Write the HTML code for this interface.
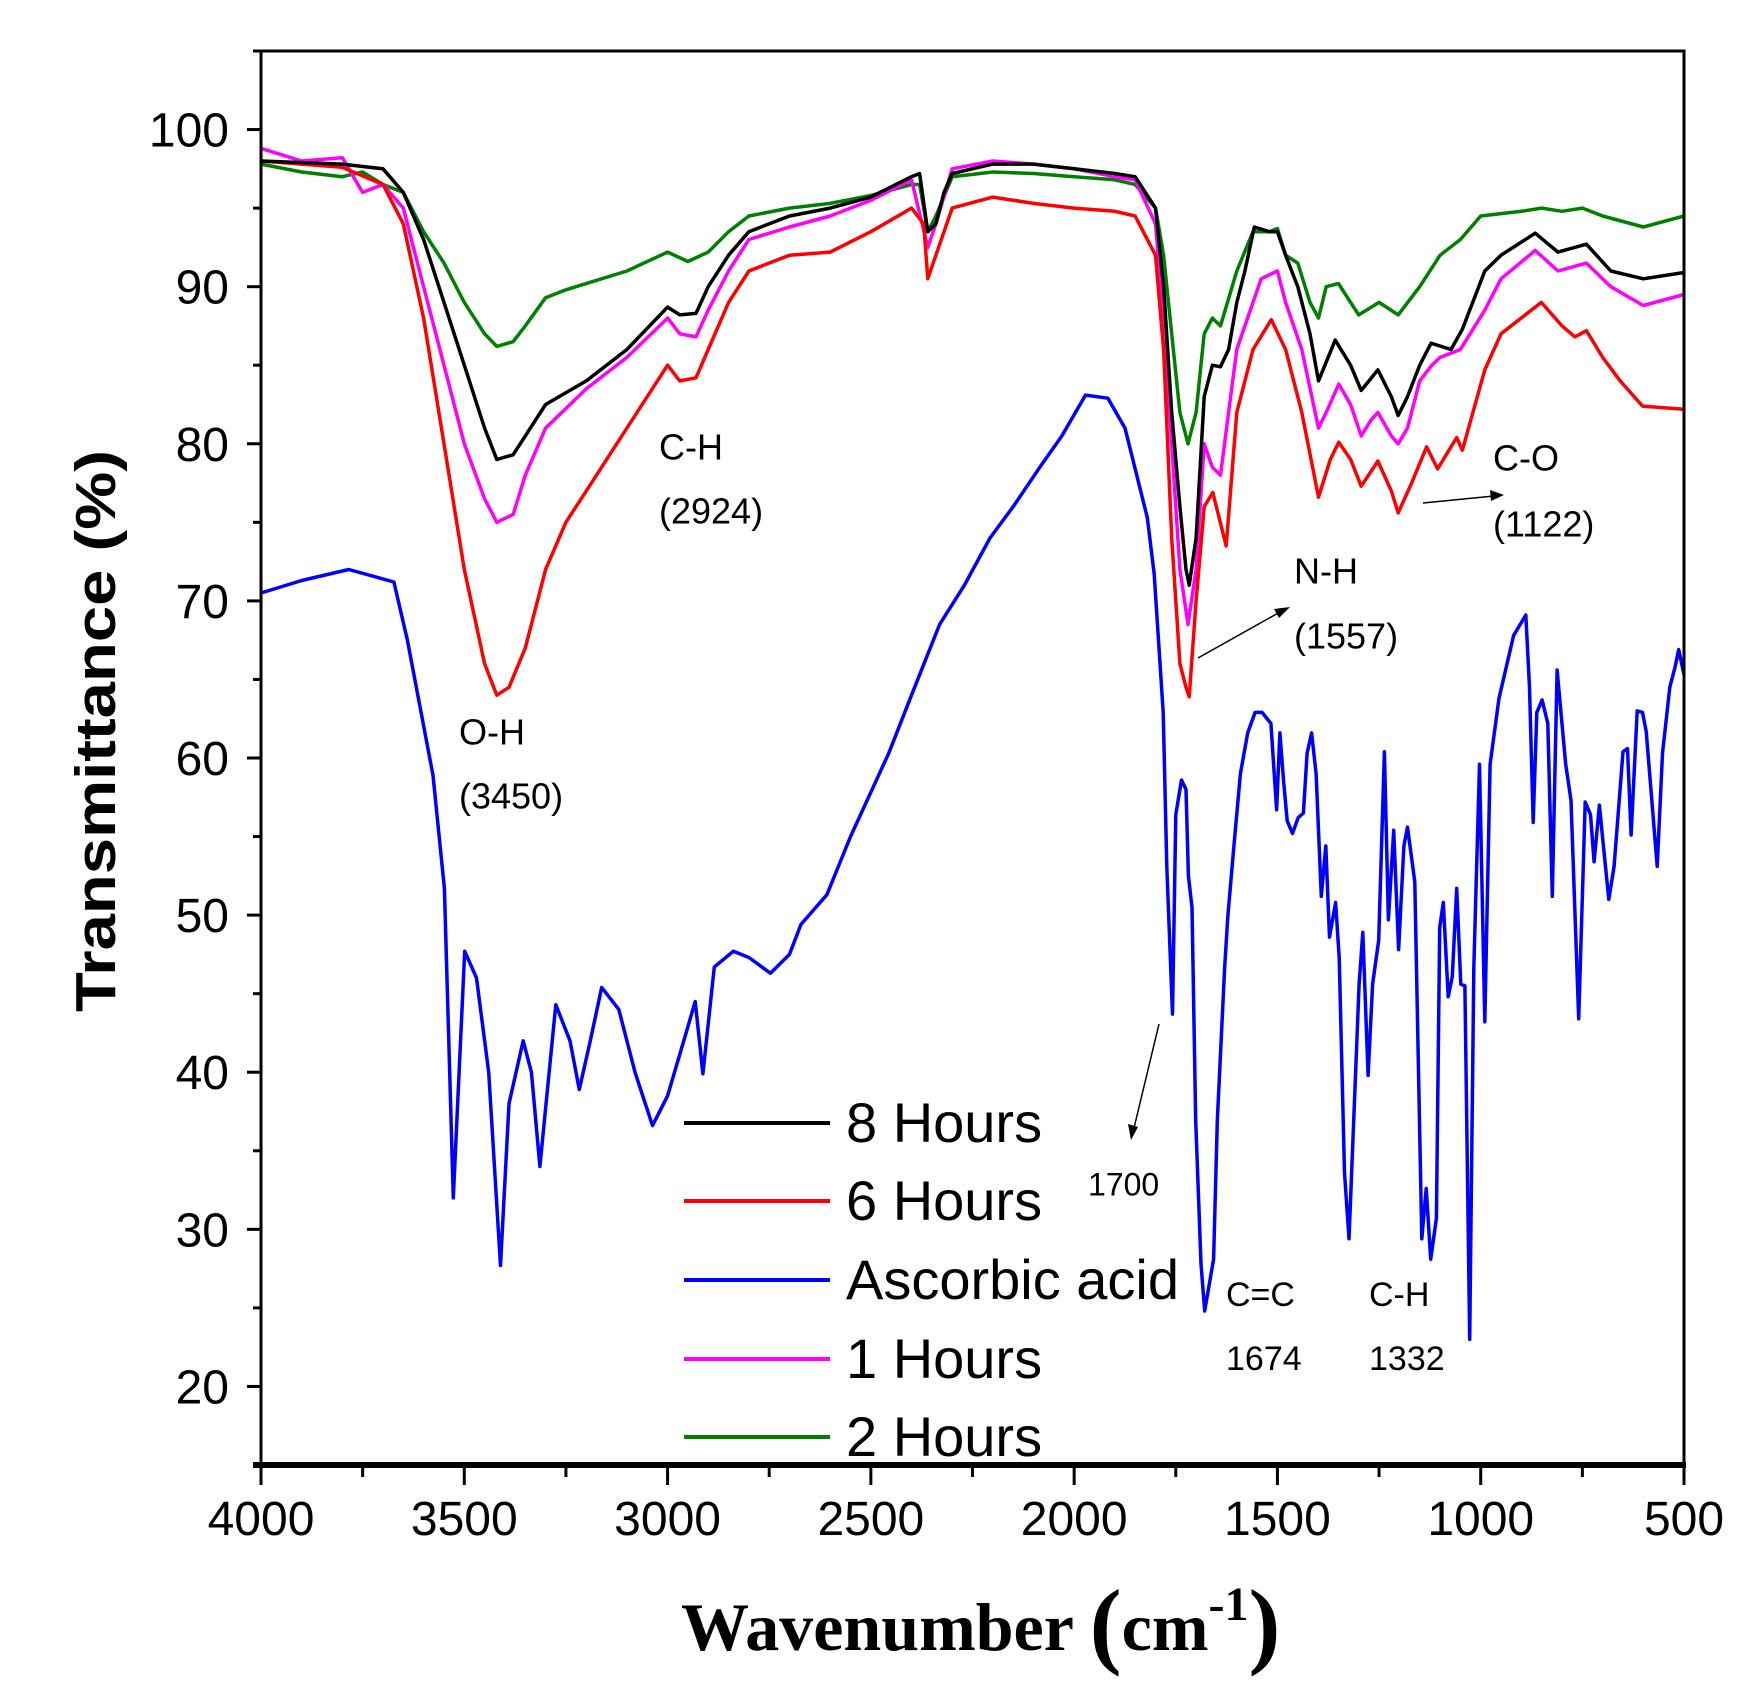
<!DOCTYPE html>
<html><head><meta charset="utf-8"><style>
html,body{margin:0;padding:0;background:#fff;}
svg{display:block;font-family:"Liberation Sans",sans-serif;}
</style></head><body>
<svg id="chart" width="1760" height="1696" viewBox="0 0 1760 1696" xmlns="http://www.w3.org/2000/svg">
<rect x="0" y="0" width="1760" height="1696" fill="#fff"/>
<g id="series"></g>
<g id="axes"></g>
<g id="annot" font-size="36" fill="#000">
<text x="659" y="450" dominant-baseline="middle">C-H</text>
<text x="659" y="514" dominant-baseline="middle">(2924)</text>
<text x="459" y="735" dominant-baseline="middle">O-H</text>
<text x="459" y="799" dominant-baseline="middle">(3450)</text>
<text x="1294" y="574" dominant-baseline="middle">N-H</text>
<text x="1294" y="639" dominant-baseline="middle">(1557)</text>
<text x="1493" y="461" dominant-baseline="middle">C-O</text>
<text x="1493" y="527" dominant-baseline="middle">(1122)</text>
<text x="1088" y="1187" dominant-baseline="middle" font-size="32">1700</text>
<text x="1226" y="1297" dominant-baseline="middle" font-size="34">C=C</text>
<text x="1226" y="1361" dominant-baseline="middle" font-size="34">1674</text>
<text x="1369" y="1297" dominant-baseline="middle" font-size="34">C-H</text>
<text x="1369" y="1361" dominant-baseline="middle" font-size="34">1332</text>
<g stroke="#000" stroke-width="1.5">
<line x1="1198" y1="658" x2="1280" y2="612"/>
<line x1="1423" y1="503" x2="1494" y2="496"/>
<line x1="1159" y1="1024" x2="1134" y2="1128"/>
</g>
<polygon points="1290,607 1274,609 1279,618" fill="#000"/>
<polygon points="1504,495 1490,490 1491,501" fill="#000"/>
<polygon points="1131,1140 1128,1124 1138,1127" fill="#000"/>
</g>
<g id="legend"></g>
</svg>
<script>
// ---- data ----
const wn8h = [4000,3800,3700,3650,3600,3550,3500,3450,3420,3380,3350,3300,3200,3100,3000,2970,2930,2900,2850,2800,2700,2600,2500,2400,2380,2360,2340,2320,2300,2200,2100,2000,1900,1850,1800,1780,1760,1740,1725,1717,1700,1680,1660,1640,1620,1600,1580,1557,1520,1500,1480,1450,1420,1399,1358,1320,1294,1253,1220,1203,1180,1150,1122,1073,1045,990,950,866,810,740,680,600,500];
const t8h = [98,97.8,97.5,96,93,89,85,81,79,79.3,80.5,82.5,84,86,88.7,88.2,88.3,90,92,93.5,94.5,95,95.7,97,97.2,93.5,94,96,97.2,97.8,97.8,97.5,97.2,97,95,90,82,76,72,71,74,83,85,84.9,86,89,91,93.8,93.5,93.5,92,90,87,84,86.6,85,83.4,84.7,83,81.8,83,85,86.4,86,87.3,91,92,93.4,92.2,92.7,91,90.5,90.9];

const wn6h = [4000,3800,3700,3650,3600,3550,3500,3450,3420,3390,3350,3300,3250,3200,3100,3000,2970,2930,2900,2850,2800,2700,2600,2500,2400,2370,2360,2340,2300,2200,2100,2000,1900,1850,1800,1780,1760,1740,1725,1717,1700,1680,1659,1626,1600,1560,1515,1480,1440,1399,1370,1349,1320,1294,1253,1220,1203,1170,1133,1106,1059,1045,990,950,851,800,768,740,700,657,602,500];
const t6h = [98,97.6,96.5,94,88,80,72,66,64,64.5,67,72,75,77,81,85,84,84.2,86,89,91,92,92.2,93.5,95,94,90.5,92,95,95.7,95.3,95,94.8,94.5,92,86,74,66,64.5,63.9,70,76,76.9,73.5,82,86,87.9,86,82,76.6,79,80.1,79,77.3,78.9,77,75.6,77.5,79.8,78.4,80.4,79.6,84.7,87,89,87.5,86.8,87.2,85.5,84,82.4,82.2];

const wn1h = [4000,3900,3800,3750,3700,3650,3600,3550,3500,3450,3420,3380,3350,3300,3200,3100,3000,2970,2930,2900,2850,2800,2700,2600,2500,2400,2360,2340,2300,2200,2100,2000,1900,1850,1800,1780,1760,1740,1720,1700,1680,1660,1640,1620,1600,1560,1540,1500,1480,1440,1399,1380,1349,1320,1294,1270,1253,1220,1203,1180,1150,1120,1100,1050,990,950,866,810,740,680,600,500];
const t1h = [98.8,98,98.2,96,96.5,95,90,85,80,76.5,75,75.5,78,81,83.5,85.5,88,87,86.8,88.5,91,93,93.8,94.5,95.5,96.8,92.5,94,97.5,98,97.8,97.5,97,96.8,94,88,80,72,68.5,72,80,78.5,78,82,86,89,90.5,91,89,86,81,82,83.8,82.5,80.5,81.5,82,80.5,80,81,84,85,85.5,86,88.5,90.5,92.3,91,91.5,90,88.8,89.5];

const wn2h = [4000,3900,3800,3750,3700,3650,3600,3550,3500,3450,3420,3380,3350,3300,3250,3100,3000,2950,2900,2850,2800,2700,2600,2500,2400,2380,2360,2340,2300,2200,2100,2000,1900,1850,1800,1780,1760,1740,1720,1700,1680,1660,1640,1600,1560,1520,1500,1480,1450,1420,1399,1380,1350,1300,1250,1203,1150,1100,1050,1000,900,850,800,750,700,600,500];
const t2h = [97.8,97.3,97,97.3,96.5,96,93.5,91.5,89,87,86.2,86.5,87.5,89.3,89.8,91,92.2,91.6,92.2,93.5,94.5,95,95.3,95.8,96.5,96.5,93.5,94.5,97,97.3,97.2,97,96.8,96.5,95,92,87,82,80,82,87,88,87.5,91,93.5,93.5,93.7,92,91.5,89,88,90,90.2,88.2,89,88.2,90,92,93,94.5,94.8,95,94.8,95,94.5,93.8,94.5];

const wnAA = [4000,3900,3784,3673,3640,3577,3549,3527,3499,3470,3440,3411,3390,3355,3335,3314,3295,3275,3240,3217,3190,3162,3120,3080,3037,3000,2960,2932,2913,2885,2838,2800,2747,2700,2672,2608,2550,2456,2400,2331,2270,2207,2150,2082,2030,1972,1917,1875,1820,1803,1781,1772,1758,1750,1736,1725,1719,1710,1701,1688,1679,1657,1648,1630,1622,1608,1591,1573,1555,1538,1516,1502,1494,1485,1476,1463,1449,1436,1427,1416,1405,1392,1381,1372,1357,1348,1335,1324,1308,1299,1290,1277,1266,1251,1237,1227,1214,1202,1189,1180,1162,1153,1145,1134,1123,1109,1101,1092,1080,1070,1059,1049,1039,1027,1017,1003,990,977,955,919,889,880,871,862,849,835,824,812,791,778,759,743,730,721,708,699,685,672,650,639,630,615,602,593,566,553,535,522,513,500];
const tAA = [70.5,71.3,72,71.2,67.5,58.9,51.7,32,47.7,46,40,27.7,38,42,40,34,39,44.3,42,38.9,42,45.4,44,40,36.6,38.5,42,44.5,39.9,46.7,47.7,47.3,46.3,47.5,49.4,51.3,55,60.3,64,68.5,71,74,76,78.6,80.5,83.1,82.9,81,75.3,71.7,62.9,53.1,43.7,56.4,58.6,58,52.5,50.5,36.9,27.8,24.8,28.1,36.9,46.6,49.9,54.1,59,61.6,62.9,62.9,62.2,56.7,61.6,58.6,56,55.2,56.2,56.5,60.3,61.6,59,51.2,54.4,48.6,50.8,47.3,33.6,29.4,39.8,45.6,48.9,39.8,45.6,48.4,60.4,49.7,55.4,47.8,54.4,55.6,52.1,40.1,29.4,32.6,28.1,30.7,49.2,50.8,44.8,46.1,51.7,45.6,45.5,23,46.6,59.6,43.2,59.6,63.8,67.8,69.1,64.5,55.9,62.9,63.7,62.2,51.2,65.6,59.6,57.3,43.4,57.2,56.4,53.4,57,54.6,51,53.1,60.4,60.6,55.1,63,62.9,61.7,53.1,60.3,64.5,65.8,66.9,65.3];

const xTicks = [4000,3500,3000,2500,2000,1500,1000,500];
const yTicks = [20,30,40,50,60,70,80,90,100];
const legendNames = ["8 Hours","6 Hours","Ascorbic acid","1 Hours","2 Hours"];

// ---- axes functions ----
const L=261,R=1684,T=51,B=1465;
const X0=4000,X1=500,Y0=15,Y1=105;
const sx = w => L + (X0-w)/(X0-X1)*(R-L);
const sy = v => B - (v-Y0)/(Y1-Y0)*(B-T);
const NS="http://www.w3.org/2000/svg";
function mk(tag, attrs, parent){
  const e=document.createElementNS(NS,tag);
  for(const k in attrs) e.setAttribute(k,attrs[k]);
  parent.appendChild(e); return e;
}
const sg=document.getElementById('series');
function drawLine(wn,t,color,name){
  let d='';
  for(let i=0;i<wn.length;i++) d+=(i?'L':'M')+sx(wn[i]).toFixed(1)+','+sy(t[i]).toFixed(1);
  const p=mk('path',{d:d,fill:'none',stroke:color,'stroke-width':3.5,'stroke-linejoin':'round'},sg);
  
  
}
drawLine(wnAA,tAA,'#0000ff','series-ascorbic-acid');
drawLine(wn2h,t2h,'#008000','series-2-hours');
drawLine(wn1h,t1h,'#ff00ff','series-1-hours');
drawLine(wn6h,t6h,'#ff0000','series-6-hours');
drawLine(wn8h,t8h,'#000000','series-8-hours');

// axes
const ax=document.getElementById('axes');
const frame=mk('rect',{x:L,y:T,width:R-L,height:B-T,fill:'none',stroke:'#000','stroke-width':3},ax);


mk('line',{x1:L-8,x2:R+2,y1:B,y2:B,stroke:'#000','stroke-width':6},ax);
for(let w=4000; w>=500; w-=250){
  const major = w%500===0;
  mk('line',{x1:sx(w),x2:sx(w),y1:B,y2:B+(major?20:12),stroke:'#000','stroke-width':3},ax);
}
xTicks.forEach(w=>{
  const t=mk('text',{x:sx(w),y:B+70,'text-anchor':'middle','font-size':48},ax);
  t.textContent=w;
  
  
});
for(let v=20; v<=105; v+=5){
  const major = v%10===0;
  mk('line',{x1:L,x2:L-(major?14:8),y1:sy(v),y2:sy(v),stroke:'#000','stroke-width':3},ax);
}
yTicks.forEach(v=>{
  const t=mk('text',{x:L-32,y:sy(v)+17,'text-anchor':'end','font-size':48},ax);
  t.textContent=v;
  
  
});
const yt=mk('text',{x:0,y:0,'text-anchor':'middle','font-size':57,'font-weight':'bold',transform:'translate(115,731) rotate(-90)',textLength:562,lengthAdjust:'spacingAndGlyphs'},ax);
yt.textContent='Transmittance (%)';


const xt=mk('text',{x:681,y:1650,'font-family':'"Liberation Serif",serif','font-weight':'bold','font-size':68},ax);


xt.innerHTML='Wavenumber <tspan font-size="96" dy="6">(</tspan><tspan dy="-6">cm</tspan><tspan font-size="48" dy="-30">-1</tspan><tspan font-size="96" dy="36">)</tspan>';

// legend
const lg=document.getElementById('legend');
const legColors=['#000000','#ff0000','#0000ff','#ff00ff','#008000'];
const legY=[1123,1201,1280,1359,1437];
legendNames.forEach((n,i)=>{
  const g=mk('g',{},lg);
  
  
  mk('line',{x1:684,x2:830,y1:legY[i],y2:legY[i],stroke:legColors[i],'stroke-width':4},g);
  const t=mk('text',{x:846,y:legY[i]+19,'font-size':56},g);
  t.textContent=n;
});
</script>
</body></html>
